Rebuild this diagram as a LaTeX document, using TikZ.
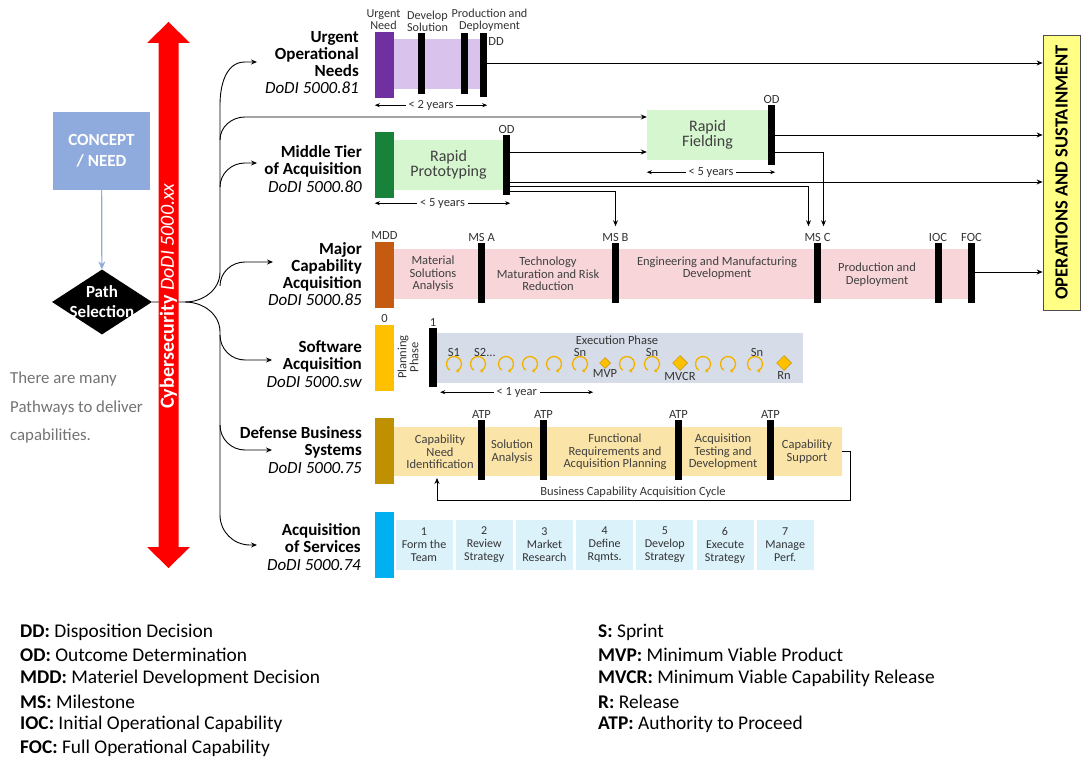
\documentclass[tikz,border=0pt]{standalone}
\usepackage{fontspec}
\setmainfont{Carlito}
\usepackage{graphicx}
\usepackage{tikz}
\usetikzlibrary{arrows.meta, calc, positioning, shapes.geometric}
\usepackage{xcolor}
\definecolor{conceptBlue}{HTML}{8FAADC}
\definecolor{uonDark}{HTML}{7030A0}
\definecolor{uonLight}{HTML}{D9C3EC}
\definecolor{mtaDark}{HTML}{18823A}
\definecolor{mtaLight}{HTML}{D5F6CF}
\definecolor{mcaDark}{HTML}{C55A11}
\definecolor{mcaLight}{HTML}{F7D5D8}
\definecolor{swDark}{HTML}{FFC000}
\definecolor{swLight}{HTML}{D7DDE8}
\definecolor{dbsDark}{HTML}{BF9000}
\definecolor{dbsLight}{HTML}{FBE4A8}
\definecolor{aosDark}{HTML}{00B0F0}
\definecolor{aosLight}{HTML}{DBF2FB}
\definecolor{sprintOrange}{HTML}{F2B200}
\definecolor{osYellow}{HTML}{FFFF85}

\begin{document}
\begin{tikzpicture}[x=1pt, y=-1pt,
    gate/.style={fill=black, minimum width=7pt, minimum height=60pt, inner sep=0pt},
    head/.style={minimum width=19pt, minimum height=66pt, inner sep=0pt},
    band/.style={minimum height=50pt, inner sep=0pt, text=black!75, align=center},
    tag/.style={font=\fontsize{12.5}{12}\selectfont, text=black!80, inner sep=1pt, align=center},
    toptag/.style={tag, font=\fontsize{12.2}{12}\selectfont},
    bandtxt/.style={font=\fontsize{12.5}{12.5}\selectfont, text=black!75, align=center, inner sep=0pt},
    pathlbl/.style={anchor=east, align=right, font=\bfseries\fontsize{17}{17.2}\selectfont, inner sep=0pt},
    svc/.style={fill=aosLight, minimum width=57pt, minimum height=50pt, inner sep=0pt, align=center, text=black!80, font=\fontsize{12}{13}\selectfont},
    conn/.style={-{Stealth[length=6pt, width=5pt]}, line width=0.9pt},
    tree/.style={line width=0.9pt},
    span/.style={{Stealth[length=5pt, width=4pt]}-{Stealth[length=5pt, width=4pt]}, line width=0.6pt},
    msd/.style={diamond, fill=swDark, draw=dbsDark, line width=0.5pt, inner sep=0pt},
    legend/.style={anchor=west, font=\fontsize{19.4}{19.4}\selectfont, inner sep=0pt},
    sprint/.pic={\draw[sprintOrange, line width=1.3pt, -{Stealth[length=3pt, width=4.5pt]}] (235:7.5pt) arc[start angle=235, end angle=-75, radius=7.5pt];}
]
\useasboundingbox (0,0) rectangle (1081,759);

% 运营与保障
\node[fill=osYellow, draw=black!70, line width=0.8pt, minimum width=37pt, minimum height=275pt, inner sep=0pt,
      font=\bfseries\fontsize{18.5}{18.5}\selectfont] (os) at (1061.5,172.5) {\rotatebox{90}{OPERATIONS AND SUSTAINMENT}};

% 概念与路径选择
\node[fill=conceptBlue, minimum width=97pt, minimum height=78pt, text=white, align=center,
      font=\bfseries\fontsize{17}{21}\selectfont] (concept) at (101.5,151) {CONCEPT\\/ NEED};
\node[diamond, fill=black, minimum width=100pt, minimum height=65pt, inner sep=0pt] (sel) at (102,302) {};
\node[text=white, align=center, font=\bfseries\fontsize{17}{20}\selectfont] (seltxt) at (sel) {Path\\Selection};
\draw[-{Stealth[length=8pt, width=7pt]}, conceptBlue, line width=1.2pt] (concept) -- (sel);
\node[anchor=west, align=left, text=black!55, font=\fontsize{16.8}{28.5}\selectfont, inner sep=0pt] (note) at (10,408) {There are many\\Pathways to deliver\\capabilities.};

% 分支
\coordinate (split) at (185,302);
\coordinate (uonin) at (257,62);
\coordinate (mtain) at (257,163);
\coordinate (mcain) at (273,262);
\coordinate (swin) at (272,360);
\coordinate (dbsin) at (272,450);
\coordinate (aosin) at (257,545);
\draw[tree] (sel.east) -- (split) to[out=0,in=-90] (220,272) -- (220,105);
\draw[tree] (split) to[out=0,in=90] (220,332) -- (220,515);
\draw[conn] (220,105) to[out=90,in=180] (245,62) -- (uonin);
\draw[conn] (220,187) to[out=90,in=180] (245,163) -- (mtain);
\draw[conn] (220,286) to[out=90,in=180] (245,262) -- (mcain);
\draw[conn] (220,335) to[out=-90,in=180] (245,360) -- (swin);
\draw[conn] (220,425) to[out=-90,in=180] (245,450) -- (dbsin);
\draw[conn] (220,515) to[out=-90,in=180] (250,545) -- (aosin);

% 网络安全箭头
\fill[red] (158.5,43) -- (147,43) -- (168.5,22) -- (190,43) -- (178.5,43) -- (178.5,547) -- (190,547)
    -- (168.5,568) -- (147,547) -- (158.5,547) -- cycle;
\node[rotate=90, text=white, font=\fontsize{20}{20}\selectfont] (cyber) at (168.5,296) {\textbf{Cybersecurity} \textit{DoDI 5000.xx}};

% 路径名称
\node[pathlbl] (uonlbl) at (359,62.5) {Urgent\\Operational\\Needs\\{\mdseries\itshape DoDI 5000.81}};
\node[pathlbl] (mtalbl) at (362,169) {Middle Tier\\of Acquisition\\{\mdseries\itshape DoDI 5000.80}};
\node[pathlbl] (mcalbl) at (362,274) {Major\\Capability\\Acquisition\\{\mdseries\itshape DoDI 5000.85}};
\node[pathlbl] (swlbl) at (362,364) {Software\\Acquisition\\{\mdseries\itshape DoDI 5000.sw}};
\node[pathlbl] (dbslbl) at (362,450) {Defense Business\\Systems\\{\mdseries\itshape DoDI 5000.75}};
\node[pathlbl] (aoslbl) at (361,547) {Acquisition\\of Services\\{\mdseries\itshape DoDI 5000.74}};

% 紧急作战需求
\node[head, fill=uonDark] (uonhead) at (384.5,65) {};
\node[band, fill=uonLight, minimum width=90pt] (uonband) at (439,64) {};
\node[gate, minimum height=61pt] (uong1) at (421.5,63.5) {};
\node[gate, minimum height=61pt] (uong2) at (464,63.5) {};
\node[gate, minimum height=64pt] (dd) at (483.5,65) {};
\node[toptag, above=1pt of uonhead, xshift=-1pt] (unlbl) {Urgent\\Need};
\node[toptag, above=0pt of uong1, xshift=6pt] (dslbl) {Develop\\Solution};
\node[toptag, above=0pt of dd, xshift=6pt] (pdlbl) {Production and\\Deployment};
\node[tag, anchor=west] (ddlbl) at ([yshift=-9pt]dd.north east) {DD};
\draw[span] ([yshift=-7pt]uonhead.south west) -- ([yshift=-7pt]uonhead.south west -| dd.east)
    node[midway, fill=white, tag, inner sep=3pt] (uonspan) {< 2 years};
\draw[conn] ([yshift=2pt]dd.center) -- ([yshift=2pt]dd.center -| os.west);

% 中间层采办
\node[head, fill=mtaDark] (mtahead) at (384.5,165) {};
\node[band, fill=mtaLight, minimum width=109pt, font=\fontsize{16}{15}\selectfont] (rp) at (448.5,165) {Rapid\\Prototyping};
\node[gate] (od1) at (506.5,165) {};
\node[tag, above=0pt of od1] (od1lbl) {OD};
\node[band, fill=mtaLight, minimum width=121pt, font=\fontsize{16}{15}\selectfont] (rf) at (707.5,135) {Rapid\\Fielding};
\node[gate] (od2) at (771.5,135) {};
\node[tag, above=0pt of od2] (od2lbl) {OD};
\draw[span] ([yshift=-5pt]mtahead.south west) -- ([yshift=-5pt]mtahead.south west -| od1.east)
    node[midway, fill=white, tag, inner sep=3pt] (rpspan) {< 5 years};
\draw[span] ([yshift=-12pt]rf.south west) -- ([yshift=-12pt]rf.south west -| od2.east)
    node[midway, fill=white, tag, inner sep=3pt] (rfspan) {< 5 years};
\draw[conn] (220,140) to[out=90,in=180] (245,117) -- ([yshift=18pt]rf.west);

% 重大能力采办
\node[head, fill=mcaDark] (mcahead) at (384.5,275) {};
\node[band, fill=mcaLight, minimum width=578pt] (mcaband) at (683,274) {};
\node[tag, above=1pt of mcahead] (mddlbl) {MDD};
\foreach \n/\x/\t in {msa/481.5/MS A, msb/615.5/MS B, msc/817.5/MS C, ioc/938/IOC, foc/971.5/FOC} {
    \node[gate] (\n) at (\x,273) {};
    \node[tag, above=0pt of \n] (\n-lbl) {\t};
}
\node[bandtxt] (msatxt) at (433,274) {Material\\Solutions\\Analysis};
\node[bandtxt] (tmrrtxt) at (548,274) {Technology\\Maturation and Risk\\Reduction};
\node[bandtxt] (emdtxt) at (717,268) {Engineering and Manufacturing\\Development};
\node[bandtxt] (pdtxt) at (877,274.5) {Production and\\Deployment};

% 中间层到里程碑
\draw[conn] ([yshift=13pt]od1.center) -- ([yshift=13pt]od1.center -| rf.west);
\draw[conn] (od2) -- (od2 -| os.west);
\draw[conn] ([yshift=-17pt]od2.center) -| ([shift={(6pt,6pt)}]msc-lbl.north);
\draw[conn] ([yshift=-17pt]od1.center) -- ([yshift=-17pt]od1.center -| os.west);
\draw[conn] ([yshift=-21pt]od1.center) -| ([shift={(-9pt,6pt)}]msc-lbl.north);
\draw[conn] ([yshift=-26pt]od1.center) -| ([yshift=6pt]msb-lbl.north);
\draw[conn] ([yshift=1pt]foc.center) -- ([yshift=1pt]foc.center -| os.west);

% 软件采办
\node[head, fill=swDark] (swhead) at (384.5,358) {};
\node[tag, above=1pt of swhead] (zerolbl) {0};
\node[band, fill=swLight, minimum width=366pt] (swband) at (620,358) {};
\node[gate, minimum width=8pt, minimum height=59pt] (swg) at (433,357.5) {};
\node[tag, above=0pt of swg] (onelbl) {1};
\node[tag, rotate=90] (plan) at (408,357) {Planning\\Phase};
\node[tag] (exec) at (617,340) {Execution Phase};
\foreach \x in {454,478,506,530,554,580,627,652,703,728,755}
    \pic at (\x,364) {sprint};
\node[tag] (s1) at (454,352) {S1};
\node[tag] (s2) at (485,352) {S2...};
\foreach \x in {580,652,757}
    \node[tag] (sn\x) at (\x,352) {Sn};
\node[msd, minimum width=11pt, minimum height=11pt] (mvp) at (605,363) {};
\node[msd, minimum width=15pt, minimum height=15pt] (mvcr) at (680,363) {};
\node[msd, minimum width=15pt, minimum height=15pt] (rn) at (784,363) {};
\node[tag, below=0pt of mvp] (mvplbl) {MVP};
\node[tag, below=0pt of mvcr] (mvcrlbl) {MVCR};
\node[tag, below=0pt of rn] (rnlbl) {Rn};
\draw[span] ([shift={(3pt,-5pt)}]swg.south east) -- ++(153,0)
    node[midway, fill=white, tag, inner sep=3pt] (swspan) {< 1 year};

% 国防业务系统
\node[head, fill=dbsDark] (dbshead) at (384.5,451) {};
\node[band, fill=dbsLight, minimum width=448pt, minimum height=49pt] (dbsband) at (618,451.5) {};
\foreach \x [count=\i] in {481.5,543.5,678.5,770.5} {
    \node[gate] (atp\i) at (\x,450) {};
    \node[tag, above=0pt of atp\i] (atp\i-lbl) {ATP};
}
\node[bandtxt] (cnitxt) at (440,452) {Capability\\Need\\Identification};
\node[bandtxt] (satxt) at (512,451.5) {Solution\\Analysis};
\node[bandtxt] (fraptxt) at (615,452) {Functional\\Requirements and\\Acquisition Planning};
\node[bandtxt] (atdtxt) at (723,452) {Acquisition\\Testing and\\Development};
\node[bandtxt] (cstxt) at (807,451.5) {Capability\\Support};
\coordinate (cycturn) at (850,500);
\coordinate (cycend) at (437,478);
\draw[conn, line width=0.7pt] (dbsband.east) -| (cycturn) -| (cycend);
\node[tag] (cyclbl) at (633,492) {Business Capability Acquisition Cycle};

% 服务采办
\node[head, fill=aosDark] (aoshead) at (384.5,545) {};
\foreach \t [count=\i] in {{1\\Form the\\Team}, {2\\Review\\Strategy}, {3\\Market\\Research}, {4\\Define\\Rqmts.},
                          {5\\Develop\\Strategy}, {6\\Execute\\Strategy}, {7\\Manage\\Perf.}}
    \node[svc] (svc\i) at ({424+(\i-1)*60.2},545) {\t};

% 图例
\foreach \k/\v [count=\i] in {DD/Disposition Decision, OD/Outcome Determination, MDD/Materiel Development Decision,
                              MS/Milestone, IOC/Initial Operational Capability, FOC/Full Operational Capability}
    \node[legend] (keyl\i) at (20,{632+(\i-1)*23.2}) {\textbf{\k:} \v};
\foreach \k/\v [count=\i] in {S/Sprint, MVP/Minimum Viable Product, MVCR/Minimum Viable Capability Release,
                              R/Release, ATP/Authority to Proceed}
    \node[legend] (keyr\i) at (598,{632+(\i-1)*23.2}) {\textbf{\k:} \v};
\end{tikzpicture}
\end{document}
